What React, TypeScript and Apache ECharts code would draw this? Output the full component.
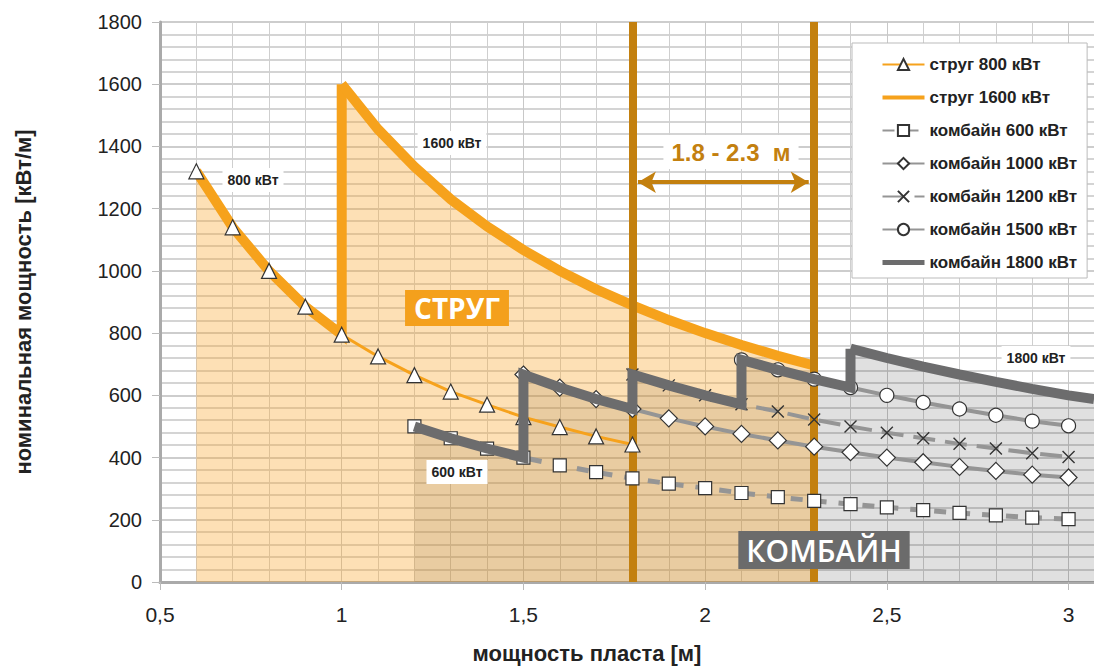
import React, { useEffect, useRef } from "react";
import * as echarts from "echarts";

// ---- data ----
const ploughX = [0.6, 0.7, 0.8, 0.9, 1.0, 1.1, 1.2, 1.3, 1.4, 1.5, 1.6, 1.7, 1.8];
const plough800 = [1320, 1140, 1000, 885, 795, 725, 665, 612, 570, 530, 498, 468, 442];

const plough1600X = [1.0, 1.1, 1.2, 1.3, 1.4, 1.5, 1.6, 1.7, 1.8, 1.9, 2.0, 2.1, 2.2, 2.3];
const plough1600 = [1600, 1455, 1335, 1230, 1143, 1067, 1000, 941, 889, 842, 800, 762, 727, 696];

const comb600X = [1.2, 1.3, 1.4, 1.5, 1.6, 1.7, 1.8, 1.9, 2.0, 2.1, 2.2, 2.3, 2.4, 2.5, 2.6, 2.7, 2.8, 2.9, 3.0];
const comb600 = [500, 462, 429, 400, 375, 353, 333, 316, 302, 286, 273, 261, 250, 240, 231, 222, 214, 207, 202];

const comb1000X = [1.5, 1.6, 1.7, 1.8, 1.9, 2.0, 2.1, 2.2, 2.3, 2.4, 2.5, 2.6, 2.7, 2.8, 2.9, 3.0];
const comb1000 = [667, 625, 588, 556, 526, 500, 476, 455, 435, 417, 400, 385, 370, 357, 345, 336];

const comb1200X = [1.8, 1.9, 2.0, 2.1, 2.2, 2.3, 2.4, 2.5, 2.6, 2.7, 2.8, 2.9, 3.0];
const comb1200 = [667, 632, 600, 571, 548, 522, 500, 480, 462, 444, 429, 414, 402];

const comb1500X = [2.1, 2.2, 2.3, 2.4, 2.5, 2.6, 2.7, 2.8, 2.9, 3.0];
const comb1500 = [714, 682, 652, 625, 600, 577, 556, 536, 517, 502];

const comb1800X = [2.4, 2.5, 2.6, 2.7, 2.8, 2.9, 3.0, 3.07];
const comb1800 = [750, 720, 692, 667, 643, 621, 600, 588];

const yTicks = [0, 200, 400, 600, 800, 1000, 1200, 1400, 1600, 1800];
const xTickLabels: Record<string, string> = { "0.5": "0,5", "1": "1", "1.5": "1,5", "2": "2", "2.5": "2,5", "3": "3" };

const seamStart = 1.8;
const seamEnd = 2.3;

const names = [
  "струг 800 кВт",
  "струг 1600 кВт",
  "комбайн 600 кВт",
  "комбайн 1000 кВт",
  "комбайн 1200 кВт",
  "комбайн 1500 кВт",
  "комбайн 1800 кВт",
];

const pts = (xs: number[], ys: number[]) => xs.map((x, i) => [x, ys[i]]);
const seg = (xs: number[], ys: number[], from: number, to: number) =>
  pts(xs, ys).filter((p) => p[0] >= from - 1e-9 && p[0] <= to + 1e-9);

const ORANGE = "#f6a21c";
const BROWN = "#c3800f";
const DARK = "#6c6c6d";
const THIN = "#959595";
const FONT = "'Liberation Sans', Arial, sans-serif";
const NARROW = "'Liberation Sans Narrow', 'Liberation Sans', Arial, sans-serif";
const ORANGE_FILL = "rgba(249,168,47,0.355)";
const GRAY_FILL = "rgba(0,0,0,0.12)";

const markerStyle = { color: "#fff", borderColor: "#333", borderWidth: 1.2, opacity: 1 };

export default function App() {
  const ref = useRef<HTMLDivElement>(null);
  useEffect(() => {
    if (!ref.current) return;
    const chart = echarts.init(ref.current, undefined, { renderer: "svg" });

    const ploughEnv = [...seg(ploughX, plough800, 0.6, 1.0), [plough1600X[0], plough1600[0]]];
    const combEnv = [
      ...seg(comb600X, comb600, 1.2, 1.5),
      ...seg(comb1000X, comb1000, 1.5, 1.8),
      ...seg(comb1200X, comb1200, 1.8, 2.1),
      ...seg(comb1500X, comb1500, 2.1, 2.4),
      [comb1800X[0], comb1800[0]],
    ];
    const ploughAll = [...ploughEnv, ...pts(plough1600X, plough1600).slice(1)];
    const combAll = [...combEnv, ...pts(comb1800X, comb1800).slice(1)];

    const labelBox = (text: string, x: number, y: number, size = 14) => ({
      type: "text",
      x,
      y,
      z: 50,
      style: {
        text,
        font: `bold ${size}px ${FONT}`,
        fill: "#222",
        backgroundColor: "#fff",
        padding: [5, 5],
        align: "center",
        verticalAlign: "middle",
      },
    });

    const areaOnly = (name: string, data: number[][], color: string, z: number) => ({
      name,
      type: "line",
      data,
      symbol: "none",
      z,
      lineStyle: { width: 0, opacity: 0 },
      areaStyle: { color, origin: "start", opacity: 1 },
      silent: true,
    });

    chart.setOption({
      animation: false,
      backgroundColor: "#fff",
      grid: { left: 160, top: 22, right: 0, bottom: 86, containLabel: false },
      xAxis: {
        type: "value",
        min: 0.5,
        max: 3.07,
        interval: 0.5,
        axisLine: { show: true, onZero: false, lineStyle: { color: "#aaa", width: 3 } },
        axisTick: { show: true, length: 8, lineStyle: { color: "#bbb" } },
        axisLabel: {
          margin: 22,
          fontSize: 21,
          color: "#222",
          fontFamily: NARROW,
          showMaxLabel: false,
          formatter: (v: number) => xTickLabels[String(v)] ?? String(v),
        },
        splitLine: { show: true, lineStyle: { color: "#c8c8c8", width: 1 } },
        minorTick: { show: true, splitNumber: 5, length: 0 },
        minorSplitLine: { show: true, lineStyle: { color: "#cfcfcf", width: 1 } },
      },
      yAxis: {
        type: "value",
        min: yTicks[0],
        max: yTicks[yTicks.length - 1],
        interval: 200,
        name: "номинальная мощность [кВт/м]",
        nameLocation: "middle",
        nameGap: 126,
        nameRotate: 90,
        nameTextStyle: { fontSize: 22, fontWeight: "bold", color: "#222", fontFamily: FONT },
        axisLine: { show: true, lineStyle: { color: "#aaa", width: 3 } },
        axisTick: { show: true, length: 8, lineStyle: { color: "#bbb" } },
        axisLabel: {
          margin: 18,
          fontSize: 20,
          color: "#222",
          fontFamily: FONT,
          formatter: (v: number) => String(v),
        },
        splitLine: { show: true, lineStyle: { color: "#bdbdbd", width: 1.5 } },
        minorTick: { show: true, splitNumber: 5, length: 0 },
        minorSplitLine: { show: true, lineStyle: { color: "#c6c6c6", width: 1.5 } },
      },
      legend: {
        orient: "vertical",
        left: 852,
        top: 43,
        padding: [13, 10, 7, 28],
        itemWidth: 42,
        itemHeight: 14,
        itemGap: 16,
        itemTextGap: 4,
        backgroundColor: "#fff",
        borderColor: "#bbb",
        borderWidth: 1,
        borderRadius: 0,
        textStyle: { fontSize: 17, fontWeight: "bold", color: "#222", fontFamily: FONT },
        data: names.map((n, i) =>
          i === 1
            ? { name: n, lineStyle: { width: 4 }, itemStyle: { opacity: 0 } }
            : i === 6
            ? { name: n, lineStyle: { width: 5 }, itemStyle: { opacity: 0 } }
            : { name: n }
        ),
      },
      series: [
        areaOnly("comb-area", combAll, GRAY_FILL, 1),
        areaOnly("plough-area", ploughAll, ORANGE_FILL, 2),
        {
          name: "plough-env",
          type: "line",
          data: ploughEnv,
          symbol: "none",
          z: 4,
          lineStyle: { color: ORANGE, width: 10, cap: "butt", join: "miter" },
          silent: true,
        },
        {
          name: names[1],
          type: "line",
          data: pts(plough1600X, plough1600),
          symbol: "none",
          z: 4,
          itemStyle: { color: ORANGE },
          lineStyle: { color: ORANGE, width: 10, cap: "butt", join: "miter" },
          silent: true,
        },
        {
          name: "comb-env",
          type: "line",
          data: combEnv,
          symbol: "none",
          z: 6,
          lineStyle: { color: DARK, width: 10, cap: "butt", join: "miter" },
          silent: true,
        },
        {
          name: names[6],
          type: "line",
          data: pts(comb1800X, comb1800),
          symbol: "none",
          z: 6,
          itemStyle: { color: DARK },
          lineStyle: { color: DARK, width: 10, cap: "butt" },
          silent: true,
        },
        {
          name: names[0],
          type: "line",
          data: pts(ploughX, plough800),
          symbol: "triangle",
          symbolSize: 15,
          showAllSymbol: true,
          z: 5,
          itemStyle: markerStyle,
          lineStyle: { color: ORANGE, width: 3 },
          silent: true,
        },
        {
          name: names[2],
          type: "line",
          data: pts(comb600X, comb600),
          symbol: "rect",
          symbolSize: 13,
          showAllSymbol: true,
          z: 5,
          itemStyle: markerStyle,
          lineStyle: { color: THIN, width: 5, type: [12, 12] },
          silent: true,
        },
        {
          name: names[3],
          type: "line",
          data: pts(comb1000X, comb1000),
          symbol: "diamond",
          symbolSize: 17,
          showAllSymbol: true,
          z: 5,
          itemStyle: markerStyle,
          lineStyle: { color: THIN, width: 4 },
          silent: true,
        },
        {
          name: names[4],
          type: "line",
          data: pts(comb1200X, comb1200),
          symbol: "path://M0 0L10 10M10 0L0 10",
          symbolSize: 12,
          showAllSymbol: true,
          z: 5,
          itemStyle: { color: "rgba(255,255,255,0)", borderColor: "#333", borderWidth: 1.4 },
          lineStyle: { color: THIN, width: 4, type: [22, 10] },
          silent: true,
        },
        {
          name: names[5],
          type: "line",
          data: pts(comb1500X, comb1500),
          symbol: "circle",
          symbolSize: 14,
          showAllSymbol: true,
          z: 5,
          itemStyle: markerStyle,
          lineStyle: { color: THIN, width: 4 },
          silent: true,
        },
        {
          name: "range",
          type: "line",
          data: [],
          z: 10,
          silent: true,
          markLine: {
            silent: true,
            symbol: "none",
            label: { show: false },
            lineStyle: { color: BROWN, width: 8, type: "solid" },
            data: [{ xAxis: seamStart }, { xAxis: seamEnd }],
          },
        },
        {
          name: "arrow",
          type: "line",
          data: [],
          z: 10,
          silent: true,
          markLine: {
            silent: true,
            symbol: ["arrow", "arrow"],
            symbolSize: [16, 18],
            label: { show: false },
            lineStyle: { color: BROWN, width: 4, type: "solid" },
            data: [[{ coord: [seamStart + 0.015, 1285] }, { coord: [seamEnd - 0.015, 1285] }]],
          },
        },
      ],
      graphic: [
        labelBox("800 кВт", 253, 180),
        labelBox("1600 кВт", 452, 143),
        labelBox("600 кВт", 457, 472),
        labelBox("1800 кВт", 1036, 358),
        {
          type: "text",
          x: 731,
          y: 152,
          z: 50,
          style: {
            text: "1.8 - 2.3  м",
            font: `bold 24px ${FONT}`,
            fill: BROWN,
            backgroundColor: "#fff",
            padding: [5, 8],
            align: "center",
            verticalAlign: "middle",
          },
        },
        {
          type: "text",
          x: 457,
          y: 308,
          z: 50,
          style: {
            text: "СТРУГ",
            font: `bold 28px 'Open Sans', ${FONT}`,
            fill: "#fff",
            backgroundColor: "#f4a01c",
            padding: [4, 9],
            align: "center",
            verticalAlign: "middle",
          },
        },
        {
          type: "text",
          x: 824,
          y: 550,
          z: 50,
          style: {
            text: "КОМБАЙН",
            font: `600 30px 'Open Sans', ${FONT}`,
            fill: "#fff",
            backgroundColor: "#6b6b6b",
            padding: [4, 8],
            align: "center",
            verticalAlign: "middle",
          },
        },
        {
          type: "text",
          x: 587,
          y: 653,
          z: 50,
          style: {
            text: "мощность пласта [м]",
            font: `bold 22px ${NARROW}`,
            fill: "#222",
            align: "center",
            verticalAlign: "middle",
          },
        },
      ],
    });
    return () => chart.dispose();
  }, []);
  return (
    <div
      ref={ref}
      style={{ position: "fixed", left: 0, top: 0, width: 1094, height: 668 }}
    />
  );
}
